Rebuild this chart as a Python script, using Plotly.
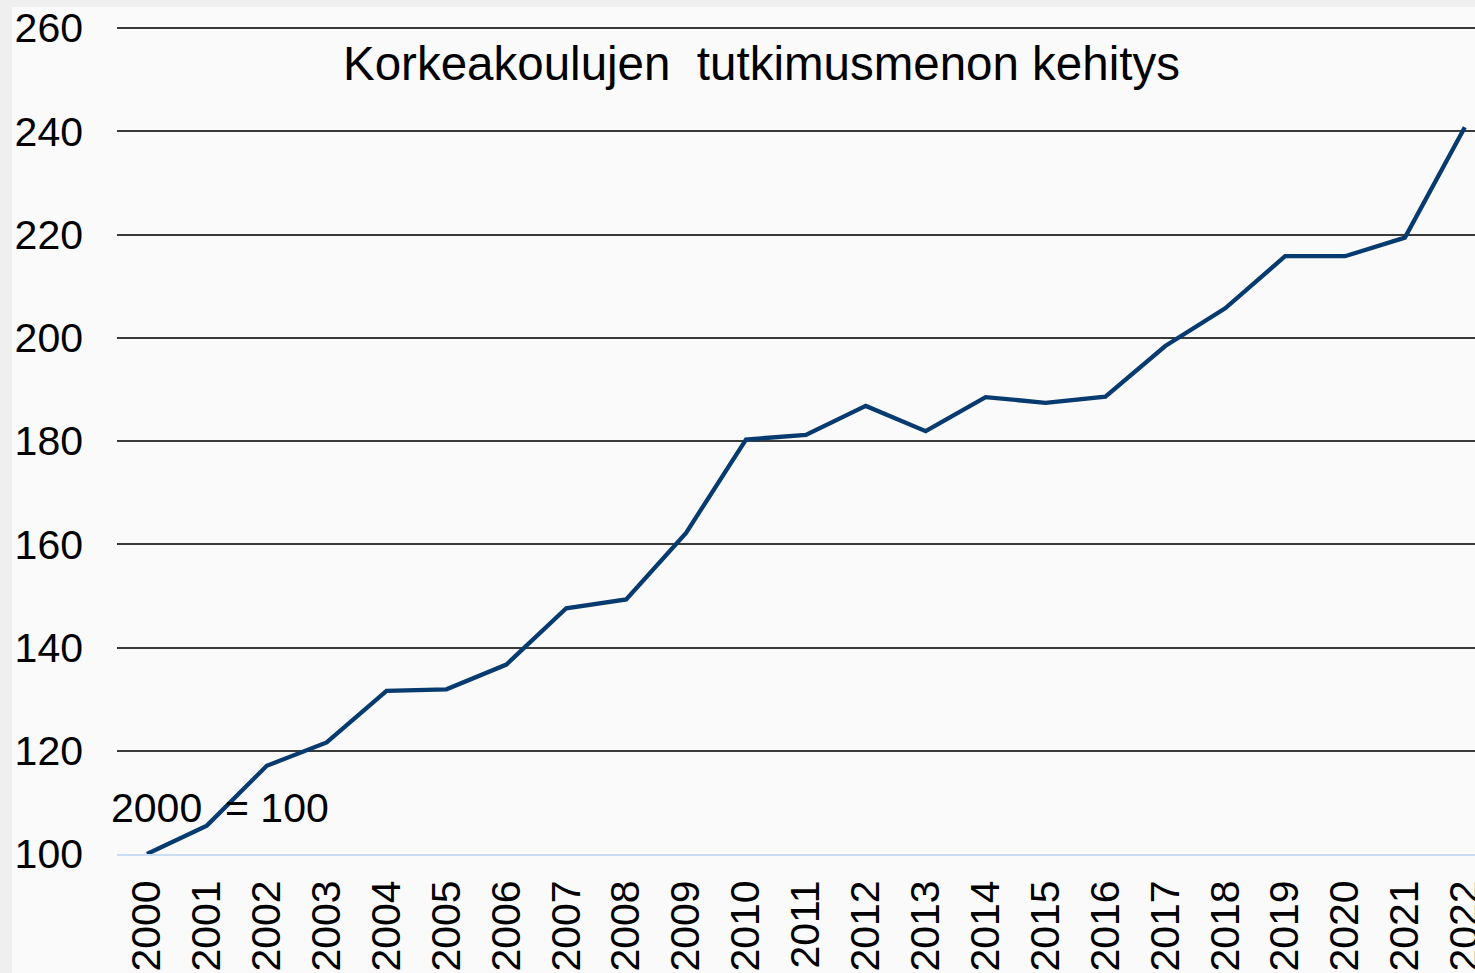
import plotly.graph_objects as go

years = list(range(2000, 2023))
index_values = [100.0, 105.5, 117.1, 121.6, 131.6, 131.9, 136.7, 147.6, 149.3, 162.2,
                180.3, 181.2, 186.8, 181.9, 188.5, 187.4, 188.6, 198.4, 205.7, 215.8,
                215.8, 219.4, 240.8]
y_ticks = [100, 120, 140, 160, 180, 200, 220, 240, 260]
title_text = "Korkeakoulujen&nbsp;&nbsp;tutkimusmenon kehitys"
base_text = "2000&nbsp;&nbsp;= 100"

FONT = "Liberation Sans, Arial, sans-serif"

fig = go.Figure()
fig.add_trace(go.Scatter(
    x=years, y=index_values, mode="lines",
    line=dict(color="#073a6e", width=4.3),
    showlegend=False, hoverinfo="x+y",
))

W, H = 1475, 973
L, R, T, B = 117, 0, 27, 119
pw = W - L - R
ph = H - T - B

def px_x(p):
    return (p - L) / pw

def px_y(p):
    return (H - B - p) / ph

fig.update_layout(
    width=W, height=H,
    margin=dict(l=L, r=R, t=T, b=B, pad=0, autoexpand=False),
    paper_bgcolor="#efefef",
    plot_bgcolor="#fafafa",
    font=dict(family=FONT, color="black", size=41),
    xaxis=dict(
        range=[1999.5, 2022.17], automargin=False,
        tickmode="array", tickvals=years, ticktext=[str(y) for y in years],
        tickangle=-90, showgrid=False, zeroline=False,
        showline=True, linecolor="#c9def5", linewidth=2,
        ticks="", ticklabelstandoff=8, ticklabeloverflow="allow",
        tickfont=dict(family=FONT, size=41, color="black"),
    ),
    yaxis=dict(
        range=[100, 260.2], automargin=False,
        tickmode="array", tickvals=y_ticks,
        showgrid=True, gridcolor="#3a3a3a", gridwidth=1.5,
        zeroline=False, showline=False, ticks="",
        ticklabelstandoff=33,
        tickfont=dict(family=FONT, size=41, color="black"),
    ),
    shapes=[dict(
        type="rect", xref="paper", yref="paper",
        x0=px_x(12), x1=px_x(W + 5), y0=px_y(H + 5), y1=px_y(7),
        fillcolor="#fafafa", line=dict(width=0), layer="below",
    )],
    annotations=[
        dict(text=title_text, xref="paper", yref="paper",
             x=px_x(341), y=px_y(63), xanchor="left", yanchor="middle",
             showarrow=False, font=dict(family=FONT, size=47.5, color="black")),
        dict(text=base_text, xref="paper", yref="paper",
             x=px_x(109), y=px_y(808), xanchor="left", yanchor="middle",
             showarrow=False, font=dict(family=FONT, size=41, color="black")),
    ],
)

fig.write_html(
    "out.html",
    config={"displayModeBar": False},
    post_script="document.body.style.margin='0';document.body.style.padding='0';"
                "document.body.style.overflow='hidden';",
)
